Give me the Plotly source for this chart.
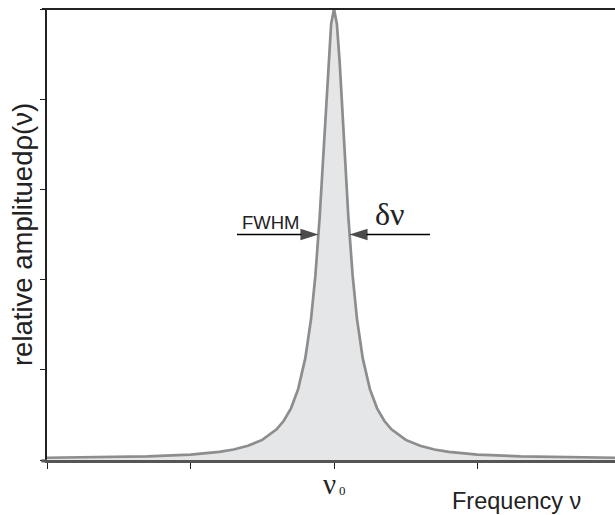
import plotly.graph_objects as go

# Lorentzian line profile (x in tick units, nu0 = 2)
freq = [0.0, 0.4, 0.7, 1.0, 1.2, 1.3, 1.4, 1.5, 1.6, 1.65, 1.7, 1.75, 1.8, 1.84, 1.87,
        1.9, 1.92, 1.94, 1.96, 1.98, 2.0, 2.02, 2.04, 2.06, 2.08, 2.1, 2.13, 2.16,
        2.2, 2.25, 2.3, 2.35, 2.4, 2.5, 2.6, 2.7, 2.8, 3.0, 3.3, 3.6, 3.958]
amp = [0.025, 0.03, 0.04, 0.06, 0.09, 0.116, 0.157, 0.223, 0.340, 0.435, 0.573,
       0.786, 1.129, 1.565, 2.041, 2.692, 3.228, 3.820, 4.397, 4.834, 5.0, 4.834,
       4.397, 3.820, 3.228, 2.692, 2.041, 1.565, 1.129, 0.786, 0.573, 0.435, 0.340,
       0.223, 0.157, 0.116, 0.09, 0.06, 0.04, 0.03, 0.025]

x_ticks = [0, 1, 2, 3]
nu0_tick = 2
nu0_symbol = "ν"
nu0_sub = "0"
y_ticks = [0, 1, 2, 3, 4, 5]
half_max = 2.5
# FWHM arrows: (tail, tip) on the frequency axis
arrow_left = [1.324, 1.892]
arrow_right = [2.669, 2.108]

SERIF = "Liberation Serif, Times New Roman, serif"
SANS = "Liberation Sans, Arial, sans-serif"

fig = go.Figure()
fig.add_trace(go.Scatter(
    x=freq, y=amp, mode="lines", fill="tozeroy",
    fillcolor="#e5e6e8", line=dict(color="#8d8d8d", width=2.7),
    hoverinfo="skip", showlegend=False))

for arr in (arrow_left, arrow_right):
    fig.add_trace(go.Scatter(
        x=arr, y=[half_max, half_max], mode="lines+markers",
        line=dict(color="#000", width=1.3),
        marker=dict(symbol="arrow", angleref="previous", size=[0, 19], color="#000",
                    line=dict(width=0)),
        hoverinfo="skip", showlegend=False))

fig.update_layout(
    width=615, height=515,
    margin=dict(l=47, r=0, t=9, b=55),
    paper_bgcolor="white", plot_bgcolor="white",
    font=dict(family=SANS, color="#222"),
    xaxis=dict(range=[0, 3.958], tickvals=x_ticks, showticklabels=False,
               showline=True, linecolor="#555", linewidth=3,
               ticks="outside", ticklen=6, tickcolor="#222", tickwidth=1,
               showgrid=False, zeroline=False),
    yaxis=dict(range=[0, 5.0], tickvals=y_ticks, showticklabels=False,
               showline=True, linecolor="#222", linewidth=1.5,
               ticks="outside", ticklen=5, tickcolor="#222", tickwidth=1,
               showgrid=False, zeroline=False),
)

# top frame line and left stub of the bottom axis
fig.add_shape(type="line", xref="paper", yref="paper", x0=-0.009, x1=1, y0=1, y1=1,
              line=dict(color="#222", width=2))
fig.add_shape(type="line", xref="paper", yref="paper", x0=-0.010, x1=0, y0=-0.002, y1=-0.002,
              line=dict(color="#555", width=3))

# x tick label nu0 (symbol + small subscript)
fig.add_annotation(x=nu0_tick, xref="x", yref="paper", y=-0.054, text=nu0_symbol,
                   xanchor="center", yanchor="middle", xshift=-5, showarrow=False,
                   font=dict(family=SERIF, size=29, color="#222"))
fig.add_annotation(x=nu0_tick, xref="x", yref="paper", y=-0.068, text=nu0_sub,
                   xanchor="center", yanchor="middle", xshift=8, showarrow=False,
                   font=dict(family=SERIF, size=13, color="#222"))

fig.add_annotation(x=1.561, y=2.63, xref="x", yref="y", text="FWHM", showarrow=False,
                   xanchor="center", yanchor="middle", font=dict(size=18.5, color="#222"))
fig.add_annotation(x=2.39, y=2.73, xref="x", yref="y", text="δν", showarrow=False,
                   xanchor="center", yanchor="middle",
                   font=dict(family=SERIF, size=32, color="#222"))

# axis titles
fig.add_annotation(xref="paper", yref="paper", x=0.827, y=-0.091, text="Frequency ν",
                   xanchor="center", yanchor="middle",
                   showarrow=False, font=dict(size=23.5, color="#222"))
fig.add_annotation(xref="paper", yref="paper", x=-0.043, y=0.5, text="relative amplituedρ(ν)",
                   xanchor="center", yanchor="middle",
                   textangle=-90, showarrow=False, font=dict(size=27.5, color="#222"))

fig.write_html("out.html")
